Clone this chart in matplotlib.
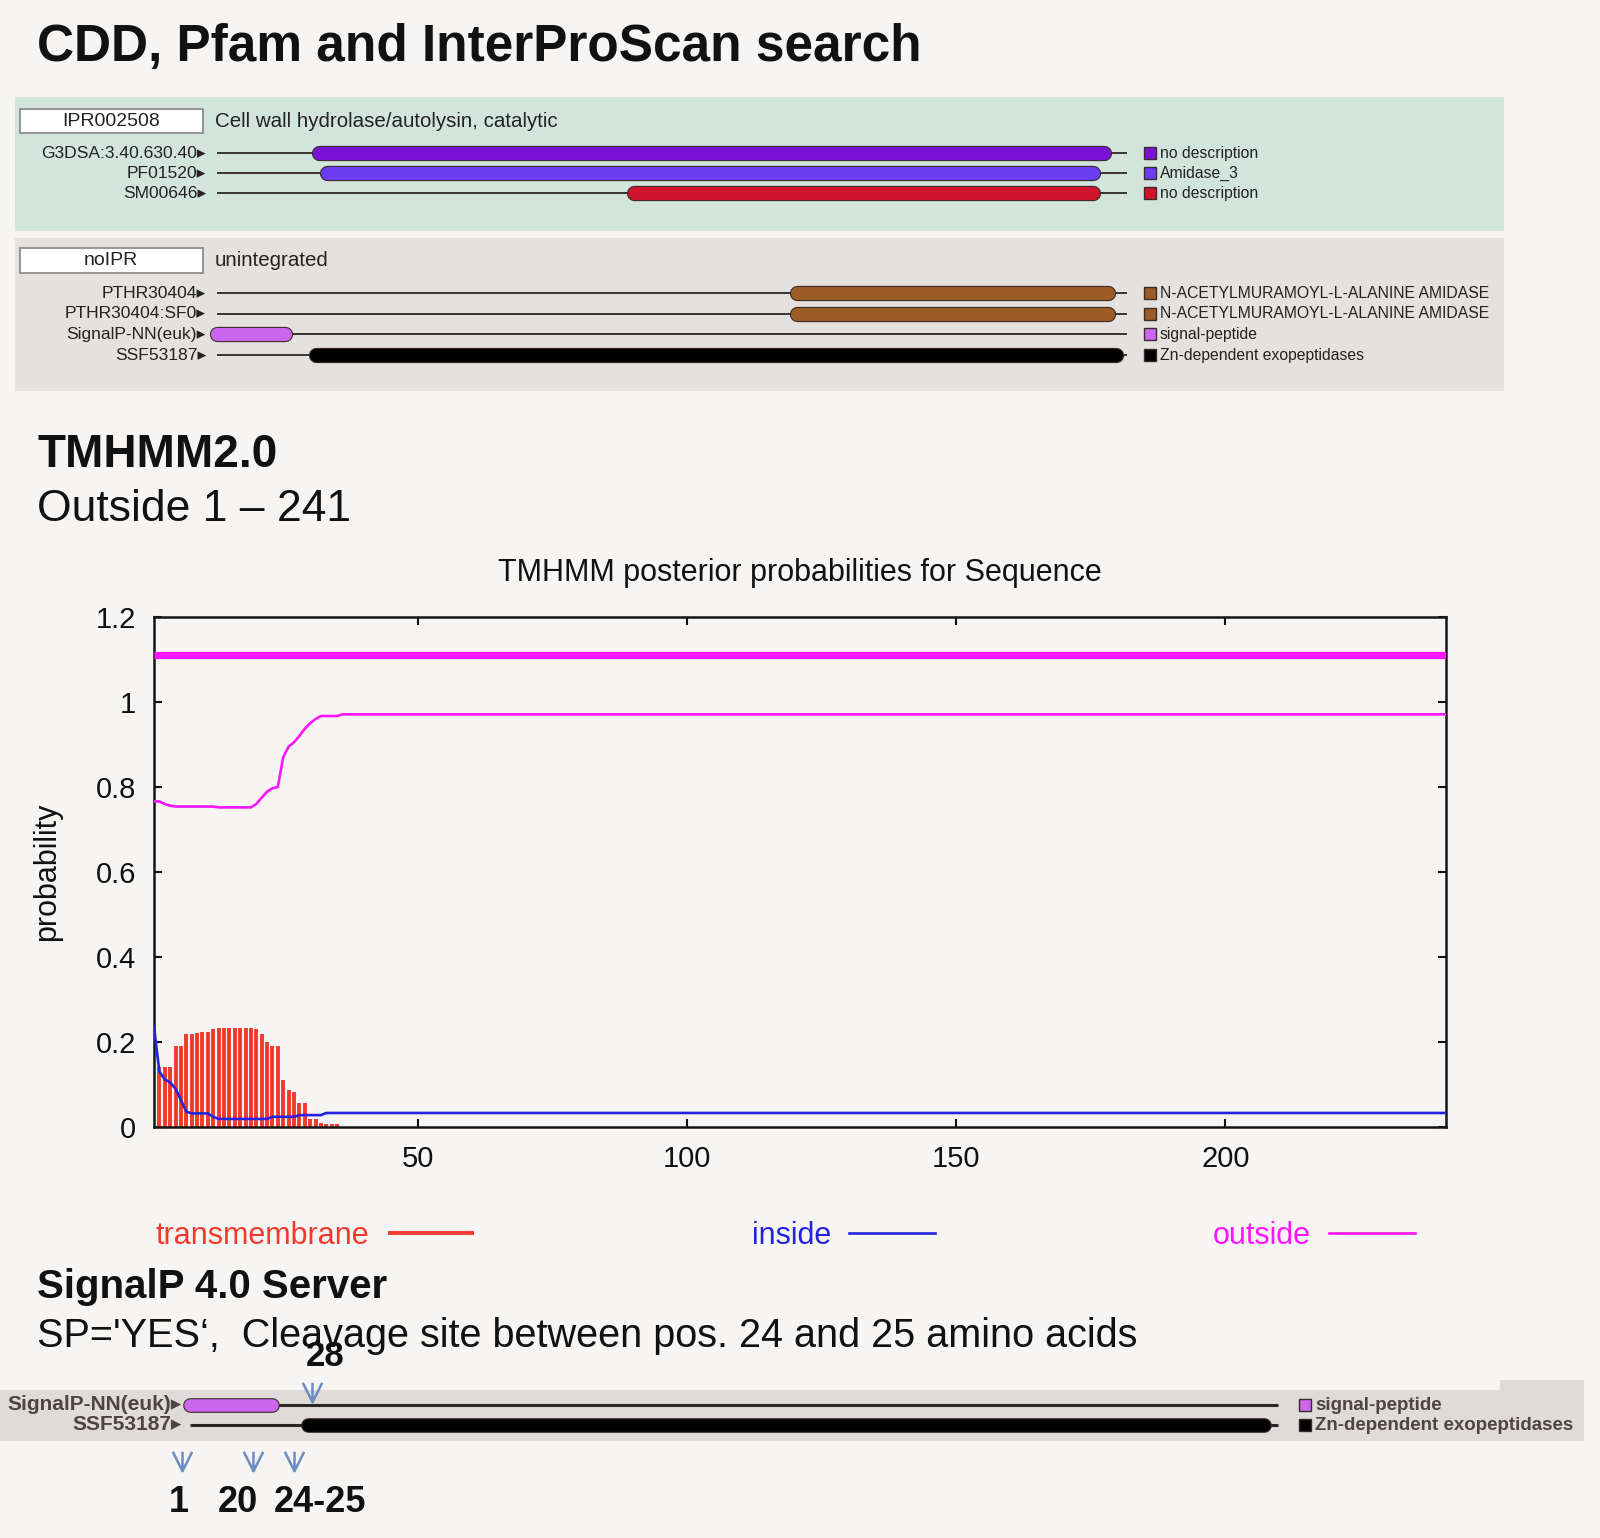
import numpy as np
import matplotlib
matplotlib.use("Agg")
import matplotlib.pyplot as plt
from matplotlib import patheffects as pe, transforms
from matplotlib.patches import Rectangle
from matplotlib.path import Path

plt.rcParams['font.family'] = ['Liberation Sans', 'DejaVu Sans']
NARROW = ['Liberation Sans Narrow', 'Liberation Sans', 'DejaVu Sans']

W, H, DPI = 1600, 1538, 100
PAGE = '#f6f5f3'
SEQ_LEN = 241

# ---- InterProScan, IPR002508 block (residue ranges) ----
ipr_header = ("IPR002508", "Cell wall hydrolase/autolysin, catalytic")
ipr_ids = ["G3DSA:3.40.630.40", "PF01520", "SM00646"]
ipr_start = [28, 30, 111]
ipr_end = [235, 232, 232]
ipr_desc = ["no description", "Amidase_3", "no description"]
ipr_colors = ["#7a12d6", "#6b3cf0", "#d0142c"]

# ---- unintegrated block ----
noipr_header = ("noIPR", "unintegrated")
noipr_ids = ["PTHR30404", "PTHR30404:SF0", "SignalP-NN(euk)", "SSF53187"]
noipr_start = [154, 154, 1, 27]
noipr_end = [236, 236, 19, 238]
noipr_desc = ["N-ACETYLMURAMOYL-L-ALANINE AMIDASE", "N-ACETYLMURAMOYL-L-ALANINE AMIDASE",
              "signal-peptide", "Zn-dependent exopeptidases"]
noipr_colors = ["#9b5d25", "#9b5d25", "#cc66ee", "#000000"]

# ---- TMHMM posteriors: residues 1-35, flat afterwards ----
tm_head = [0.000, 0.142, 0.142, 0.142, 0.191, 0.191, 0.219, 0.219, 0.222, 0.224,
           0.224, 0.230, 0.234, 0.234, 0.234, 0.234, 0.234, 0.234, 0.234, 0.230,
           0.220, 0.201, 0.191, 0.191, 0.111, 0.087, 0.083, 0.056, 0.056, 0.020,
           0.020, 0.010, 0.007, 0.007, 0.007]
tm_tail = 0.0
inside_head = [0.236, 0.130, 0.112, 0.105, 0.090, 0.064, 0.036, 0.032, 0.032, 0.032,
               0.032, 0.024, 0.019, 0.019, 0.019, 0.019, 0.019, 0.019, 0.019, 0.019,
               0.019, 0.019, 0.024, 0.024, 0.024, 0.024, 0.024, 0.028, 0.028, 0.028,
               0.028, 0.028]
inside_tail = 0.033
outside_head = [0.766, 0.766, 0.760, 0.756, 0.754, 0.754, 0.754, 0.754, 0.754, 0.754,
                0.754, 0.754, 0.752, 0.752, 0.752, 0.752, 0.752, 0.752, 0.752, 0.760,
                0.775, 0.789, 0.797, 0.800, 0.870, 0.895, 0.905, 0.920, 0.937, 0.950,
                0.960, 0.967, 0.967, 0.967, 0.967]
outside_tail = 0.971
outside_region = (1, 241)
outside_region_y = 1.11
tm_yticks = [0, 0.2, 0.4, 0.6, 0.8, 1, 1.2]
tm_xticks = [50, 100, 150, 200]

# ---- SignalP strip: rows reused from the unintegrated block ----
strip_rows = [2, 3]
site_above = [28]
site_above_text = ["28"]
site_above_label = [30.8]
site_below = [-0.8, 15, 24]
site_below_text = ["1", "20", "24-25"]
site_below_label = [-1.4, 11.6, 29.7]


def fx(px):
    return px / W


def fy(py):
    return 1 - py / H


fig = plt.figure(figsize=(W / DPI, H / DPI), dpi=DPI, facecolor=PAGE)


def track_axes(x0, y0, x1, y1, line0, line1, row0, pitch, bg):
    ax = fig.add_axes([fx(x0), fy(y1), (x1 - x0) / W, (y1 - y0) / H])
    ax.set_facecolor(bg)
    for sp in ax.spines.values():
        sp.set_visible(False)
    ax.set_xticks([])
    ax.set_yticks([])
    # residue 1 .. SEQ_LEN lands on the drawn sequence line
    k = (SEQ_LEN - 1) / (line1 - line0)
    ax.set_xlim(1 - (line0 - x0) * k, SEQ_LEN + (x1 - line1) * k)
    ax.set_ylim((y1 - row0) / pitch, (y0 - row0) / pitch)
    tr = transforms.blended_transform_factory(fig.transFigure, ax.transData)
    return ax, tr


def draw_rows(ax, tr, ids, starts, ends, descs, colors, label_px, key_px,
              fs, weight, bar_lw, line_lw, txt_color, key_fs):
    for i, (name, s, e, d, c) in enumerate(zip(ids, starts, ends, descs, colors)):
        ax.plot([1, SEQ_LEN], [i, i], color='#2b2626', lw=line_lw,
                solid_capstyle='butt', zorder=2)
        ax.plot([s, e], [i, i], color=c, lw=bar_lw, solid_capstyle='round', zorder=3,
                path_effects=[pe.Stroke(linewidth=bar_lw + 1.6, foreground='#3a2c2c'),
                              pe.Normal()])
        ax.text(fx(label_px), i, name + '\u25b8', transform=tr, ha='right', va='center',
                fontsize=fs, family=NARROW, weight=weight, color=txt_color)
        ax.plot([fx(key_px)], [i], transform=tr, marker='s', ms=8, mfc=c,
                mec='#3a2c2c', mew=1, clip_on=False)
        ax.text(fx(key_px + 10), i, d, transform=tr, ha='left', va='center',
                fontsize=key_fs, family=NARROW, weight=weight, color=txt_color)


def draw_header(ax, tr, row, header):
    ax.add_patch(Rectangle((fx(20), row - 0.6), fx(203) - fx(20), 1.2, transform=tr,
                           fc='white', ec='#8c8c8c', lw=1.3, clip_on=False, zorder=4))
    ax.text(fx(111), row, header[0], transform=tr, ha='center', va='center',
            fontsize=14, family=NARROW, color='#222', zorder=5)
    ax.text(fx(215), row, header[1], transform=tr, ha='left', va='center',
            fontsize=14.8, family=NARROW, color='#222')


# ---- page headings ----
fig.text(fx(37), fy(61), "CDD, Pfam and InterProScan search", fontsize=37,
         weight='bold', va='baseline', color='#111')
fig.text(fx(37), fy(467), "TMHMM2.0", fontsize=33, weight='bold', va='baseline', color='#111')
fig.text(fx(37), fy(521), "Outside 1 \u2013 241", fontsize=32, va='baseline', color='#111')
fig.text(fx(37), fy(1298), "SignalP 4.0 Server", fontsize=29, weight='bold',
         va='baseline', color='#111')
fig.text(fx(37), fy(1347), "SP='YES\u2018,  Cleavage site between pos. 24 and 25 amino acids",
         fontsize=28.5, va='baseline', color='#111')

# ---- InterProScan panels ----
ax1, tr1 = track_axes(15, 97, 1504, 231, 217, 1127, 153, 20, '#d3e4dd')
draw_header(ax1, tr1, -1.6, ipr_header)
draw_rows(ax1, tr1, ipr_ids, ipr_start, ipr_end, ipr_desc, ipr_colors,
          206, 1150, 12.6, 'normal', 9.4, 1.3, '#222', 11.3)

ax2, tr2 = track_axes(15, 238, 1504, 391, 217, 1127, 293, 20.7, '#e4e1de')
draw_header(ax2, tr2, -1.55, noipr_header)
draw_rows(ax2, tr2, noipr_ids, noipr_start, noipr_end, noipr_desc, noipr_colors,
          206, 1150, 12.6, 'normal', 9.4, 1.3, '#222', 11.3)

# ---- TMHMM plot ----
res = np.arange(1, SEQ_LEN + 1)
tm = np.r_[tm_head, np.full(SEQ_LEN - len(tm_head), tm_tail)]
inside = np.r_[inside_head, np.full(SEQ_LEN - len(inside_head), inside_tail)]
outside = np.r_[outside_head, np.full(SEQ_LEN - len(outside_head), outside_tail)]

axp = fig.add_axes([fx(154), fy(1127), (1446 - 154) / W, (1127 - 617) / H])
axp.set_facecolor(PAGE)
axp.vlines(res, 0, tm, color='#f23a2c', lw=2.8, label='transmembrane', zorder=2)
axp.plot(res, inside, color='#2424e0', lw=1.9, label='inside', zorder=3)
axp.plot(res, outside, color='#ff14ff', lw=1.9, label='outside', zorder=3)
axp.plot(outside_region, [outside_region_y] * 2, color='#ff14ff', lw=5.2,
         solid_capstyle='butt', zorder=3)
axp.set_xlim(1, SEQ_LEN)
axp.set_ylim(0, 1.2)
axp.set_xticks(tm_xticks)
axp.set_yticks(tm_yticks)
axp.set_yticklabels(['%g' % v for v in tm_yticks])
axp.tick_params(direction='in', length=6, width=1.5, top=True, right=True,
                labelsize=21, pad=13, colors='#111')
for sp in axp.spines.values():
    sp.set_linewidth(1.8)
    sp.set_color('#151515')
axp.set_title("TMHMM posterior probabilities for Sequence", fontsize=22, pad=26, color='#111')
axp.set_ylabel("probability", fontsize=22, color='#111')
axp.yaxis.set_label_coords(-0.071, 0.5)
axp.legend(loc='center left', bbox_to_anchor=(fx(156), fy(1236)),
           bbox_transform=fig.transFigure, ncol=3, frameon=False, markerfirst=False,
           labelcolor=['#f23a2c', '#2424e0', '#ff14ff'], handlelength=2.8,
           handletextpad=0.6, columnspacing=9.1, borderpad=0, borderaxespad=0,
           fontsize=22)

# ---- SignalP strip ----
fig.patches.append(Rectangle((fx(1500), fy(1391)), fx(1584) - fx(1500), (1391 - 1380) / H,
                             transform=fig.transFigure, fc='#dedbd8', ec='none'))
ax3, tr3 = track_axes(0, 1390, 1584, 1441, 190, 1278, 1405, 20, '#dedbd8')
draw_rows(ax3, tr3, [noipr_ids[i] for i in strip_rows],
          [noipr_start[i] for i in strip_rows], [noipr_end[i] for i in strip_rows],
          [noipr_desc[i] for i in strip_rows], [noipr_colors[i] for i in strip_rows],
          182, 1305, 15, 'bold', 9.0, 2.2, '#4d4545', 13.5)

vee = Path([(-0.5, 0.5), (0, -0.5), (0.5, 0.5), (0, 0.5), (0, -0.5)],
           [Path.MOVETO, Path.LINETO, Path.LINETO, Path.MOVETO, Path.LINETO])
arrow_c = '#6d8cc4'
ax3.plot(site_above, [-0.65] * len(site_above), ls='none', marker=vee, ms=14,
         mfc='none', mec=arrow_c, mew=1.8, clip_on=False, zorder=6)
ax3.plot(site_below, [2.8] * len(site_below), ls='none', marker=vee, ms=14,
         mfc='none', mec=arrow_c, mew=1.8, clip_on=False, zorder=6)
for x, t in zip(site_above_label, site_above_text):
    ax3.text(x, -2.45, t, ha='center', va='center', fontsize=25, family=NARROW,
             weight='bold', color='#111')
for x, t in zip(site_below_label, site_below_text):
    ax3.text(x, 4.9, t, ha='center', va='center', fontsize=26, family=NARROW,
             weight='bold', color='#111')

fig.savefig("out.png", dpi=DPI, facecolor=PAGE)
